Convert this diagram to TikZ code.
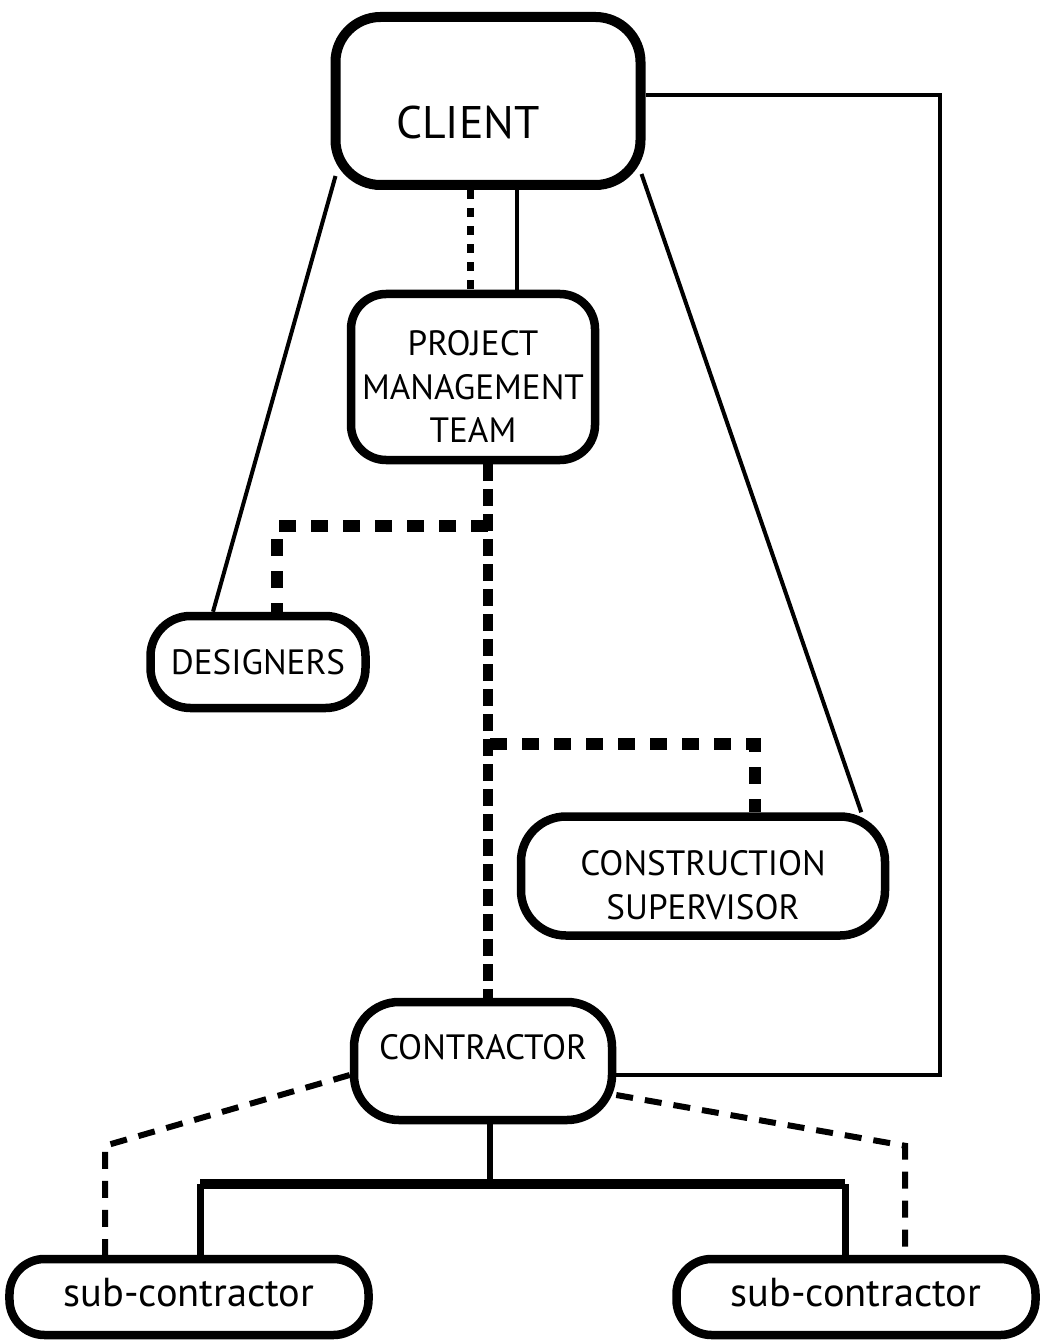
\documentclass[tikz,border=0pt]{standalone}
\usepackage{fontspec}
\setmainfont{PT Sans}
\usetikzlibrary{positioning, calc}
\tikzset{
    basebox/.style={
        draw,
        align=center,
        line width=1.7mm,
        rounded corners=9mm,
        font=\fontsize{20}{25}\selectfont,
        inner sep=0pt
    },
    clientbox/.style={basebox, line width=2mm, font=\fontsize{26}{30}\selectfont, minimum width=61mm, minimum height=33.6mm},
    teambox/.style={basebox, minimum width=48.8mm, minimum height=33.2mm, rounded corners=7mm},
    designbox/.style={basebox, minimum width=43mm, minimum height=18.4mm, rounded corners=8mm},
    superbox/.style={basebox, minimum width=72.8mm, minimum height=23.8mm},
    contractbox/.style={basebox, minimum width=51.6mm, minimum height=23.6mm},
    subbox/.style={basebox, font=\fontsize{23}{27}\selectfont, minimum width=71.8mm, minimum height=15.2mm, rounded corners=7mm},
    solidline/.style={line width=0.8mm},
    clientdash/.style={line width=1.4mm, dash pattern=on 1.8mm off 1.8mm},
    maindash/.style={line width=2mm, dash pattern=on 3.4mm off 1.6mm},
    branchdash/.style={line width=2.4mm, dash pattern=on 3.4mm off 3mm},
    subdash/.style={line width=1.2mm, dash pattern=on 3.4mm off 2.4mm},
    stemline/.style={line width=1.2mm},
    busline/.style={line width=2mm},
    dropline/.style={line width=1.4mm}
}

\begin{document}
\begin{tikzpicture}[x=0.2mm, y=-0.2mm]

    \useasboundingbox (0,0) rectangle (1043,1340);

    % 1. Cajas
    \node[clientbox, text height=15.1mm, text depth=0pt] (client) at (488,101) {CLIENT\hspace*{8mm}};
    \node[teambox] (team) at (473,377) {\rule{0pt}{8.8mm}PROJECT\\MANAGEMENT\\TEAM};
    \node[designbox] (designers) at (258,662) {DESIGNERS};
    \node[superbox] (supervisor) at (703,876) {\rule{0pt}{8.8mm}CONSTRUCTION\\SUPERVISOR};
    \node[contractbox, text height=4.9mm, text depth=5.6mm] (contractor) at (483,1061) {CONTRACTOR};
    \node[subbox, text height=3.8mm, text depth=0pt] (subleft) at (189,1297) {sub-contractor};
    \node[subbox, text height=3.8mm, text depth=0pt] (subright) at (856,1297) {sub-contractor};

    % Puntos de apoyo
    \coordinate (solidtop) at ($(client.south)+(29,0)$);
    \coordinate (dashtop) at ($(client.south)+(-18,0)$);
    \coordinate (teamfoot) at ($(team.south)+(15,0)$);
    \coordinate (leftdrop) at ($(subleft.north)+(11,0)$);
    \coordinate (rightdrop) at ($(subright.north)+(-11,0)$);

    % ==========================================
    % 2. Lineas del cliente
    % ==========================================
    \draw[solidline] ($(client.south west)+(5,-14)$) -- ($(designers.north)+(-45,0)$);
    \draw[solidline] (solidtop) -- (solidtop |- team.north);
    \draw[clientdash] (dashtop) -- (dashtop |- team.north);
    \draw[solidline] ($(client.south east)+(-4,-16)$) -- ($(supervisor.north east)+(-28,0)$);
    \draw[solidline] ($(client.east)+(0,-6)$) -- ++(294,0) |- ($(contractor.east)+(0,14)$);

    % ==========================================
    % 3. Lineas discontinuas del equipo
    % ==========================================
    \draw[maindash] (teamfoot) -- (teamfoot |- contractor.north);
    \draw[branchdash] ($(teamfoot)+(0,62)$) -| ($(designers.north)+(19,0)$);
    \draw[branchdash] ($(teamfoot)+(2,280)$) -| ($(supervisor.north)+(52,0)$);

    % ==========================================
    % 4. Contratista y subcontratistas
    % ==========================================
    \draw[stemline] ($(contractor.south)+(7,0)$) -- ++(0,60) coordinate (fork);
    \draw[busline] (leftdrop |- fork) -- (rightdrop |- fork);
    \draw[dropline] (leftdrop |- fork) -- (leftdrop);
    \draw[dropline] (rightdrop |- fork) -- (rightdrop);

    \draw[subdash] ($(contractor.west)+(0,14)$) -- ($(subleft.north)+(-84,-109)$) -- ($(subleft.north)+(-84,0)$);
    \draw[subdash] ($(contractor.east)+(0,34)$) -- ($(subright.north)+(49,-109)$) -- ($(subright.north)+(49,0)$);

\end{tikzpicture}
\end{document}
